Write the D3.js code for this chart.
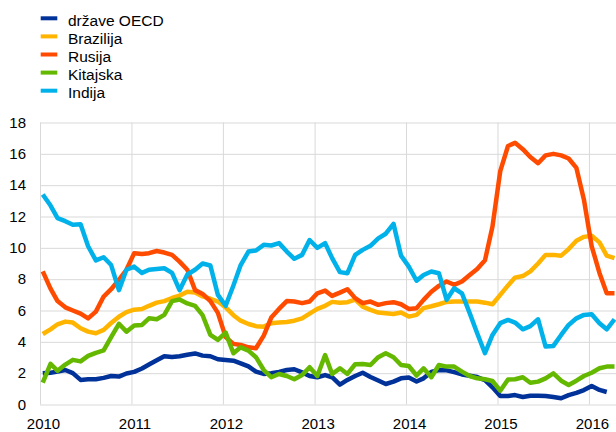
<!DOCTYPE html>
<html>
<head>
<meta charset="utf-8">
<script src="https://cdn.jsdelivr.net/npm/d3@7/dist/d3.min.js"></script>
<style>
  body { margin: 0; background: #fff; }
  svg { display: block; }
</style>
</head>
<body>
<div id="chart"></div>
<script>
// monthly data, January 2010 to April 2016
var startYear = 2010;
var seriesNames = ["države OECD", "Brazilija", "Rusija", "Kitajska", "Indija"];
var seriesColors = ["#003299", "#ffb400", "#ff4b00", "#65b800", "#00b1ea"];
var yTicks = [0, 2, 4, 6, 8, 10, 12, 14, 16, 18];
var xTickYears = [2010, 2011, 2012, 2013, 2014, 2015, 2016];

var oecd = [2.0, 2.03, 2.1, 2.2, 2.0, 1.57, 1.61, 1.61, 1.7, 1.82, 1.78, 1.98,
  2.08, 2.3, 2.55, 2.82, 3.08, 3.03, 3.08, 3.18, 3.26, 3.12, 3.08, 2.89,
  2.84, 2.8, 2.63, 2.43, 2.1, 1.95, 2.0, 2.08, 2.2, 2.25, 2.05, 1.82,
  1.74, 1.88, 1.74, 1.27, 1.57, 1.82, 2.03, 1.76, 1.53, 1.31, 1.46, 1.67,
  1.72, 1.47, 1.67, 2.08, 2.2, 2.18, 2.07, 1.92, 1.84, 1.75, 1.55, 1.1,
  0.54, 0.54, 0.6, 0.48, 0.56, 0.56, 0.54, 0.48, 0.4, 0.6, 0.74, 0.92,
  1.18, 0.93, 0.8];

var brazilija = [4.5, 4.8, 5.12, 5.29, 5.23, 4.87, 4.65, 4.55, 4.76, 5.2, 5.6, 5.9,
  6.05, 6.1, 6.3, 6.5, 6.6, 6.8, 6.95, 7.2, 7.15, 6.9, 6.75, 6.57,
  6.2, 5.7, 5.35, 5.14, 5.0, 4.97, 5.19, 5.23, 5.27, 5.35, 5.5, 5.8,
  6.1, 6.3, 6.55, 6.5, 6.53, 6.7, 6.25, 6.04, 5.87, 5.83, 5.78, 5.87,
  5.61, 5.72, 6.15, 6.27, 6.4, 6.55, 6.57, 6.57, 6.57, 6.57, 6.5, 6.4,
  7.0, 7.6, 8.1, 8.2, 8.5, 9.0, 9.55, 9.55, 9.5, 9.92, 10.45, 10.7,
  10.77, 10.35, 9.5, 9.34];

var rusija = [8.5, 7.4, 6.6, 6.2, 6.0, 5.8, 5.5, 5.93, 6.89, 7.36, 7.96, 8.6,
  9.66, 9.6, 9.66, 9.8, 9.7, 9.55, 9.12, 8.6, 7.3, 7.06, 6.6, 5.85,
  4.3, 3.87, 3.8, 3.65, 3.59, 4.4, 5.55, 6.1, 6.6, 6.57, 6.47, 6.57,
  7.1, 7.27, 6.93, 7.14, 7.36, 6.79, 6.47, 6.57, 6.36, 6.47, 6.53, 6.4,
  6.1, 6.15, 6.68, 7.2, 7.57, 7.85, 7.64, 7.85, 8.27, 8.65, 9.2, 11.36,
  14.9, 16.5, 16.7, 16.3, 15.8, 15.4, 15.9, 16.0, 15.9, 15.7, 15.1, 13.07,
  10.1, 8.4, 7.1, 7.1];

var kitajska = [1.4, 2.6, 2.15, 2.55, 2.85, 2.75, 3.1, 3.3, 3.45, 4.3, 5.15, 4.65,
  5.05, 5.08, 5.5, 5.44, 5.72, 6.6, 6.7, 6.45, 6.3, 5.7, 4.44, 4.12,
  4.59, 3.27, 3.65, 3.44, 3.02, 2.2, 1.74, 1.95, 1.82, 1.61, 1.88, 2.38,
  1.82, 3.16, 1.95, 2.31, 1.95, 2.57, 2.59, 2.52, 3.02, 3.27, 3.02, 2.52,
  2.46, 1.85, 2.31, 1.74, 2.52, 2.42, 2.42, 2.1, 1.82, 1.67, 1.61, 1.5,
  0.88, 1.6, 1.61, 1.74, 1.39, 1.46, 1.67, 1.99, 1.52, 1.25, 1.52, 1.82,
  2.03, 2.31, 2.42, 2.42];

var indija = [13.4, 12.7, 11.9, 11.7, 11.47, 11.5, 10.1, 9.2, 9.4, 8.9, 7.3, 8.6,
  8.8, 8.4, 8.6, 8.65, 8.7, 8.4, 7.3, 8.3, 8.6, 9.0, 8.87, 7.0,
  6.3, 7.6, 8.9, 9.76, 9.83, 10.19, 10.15, 10.3, 9.76, 9.3, 9.55, 10.5,
  10.0, 10.3, 9.34, 8.45, 8.38, 9.55, 9.87, 10.13, 10.6, 10.9, 11.53, 9.5,
  8.8, 7.9, 8.27, 8.49, 8.38, 6.68, 7.42, 7.1, 5.83, 4.55, 3.27, 4.44,
  5.19, 5.4, 5.23, 4.8, 5.0, 5.44, 3.7, 3.74, 4.44, 5.08, 5.5, 5.72,
  5.76, 5.19, 4.8, 5.44];

var allSeries = [oecd, brazilija, rusija, kitajska, indija];

var width = 616, height = 432;
var plot = {left: 40, right: 616, top: 122.5, bottom: 404.5};
var font = "'Liberation Sans', Arial, sans-serif";

var svg = d3.select("#chart").append("svg")
    .attr("width", width)
    .attr("height", height);

// time scale, each month plotted near its middle
var x = d3.scaleTime()
    .domain([new Date(2010, 0, 1), new Date(2016, 3, 18)])
    .range([plot.left, plot.right]);

var y = d3.scaleLinear()
    .domain([0, 18])
    .range([plot.bottom, plot.top]);

function monthDate(i) {
  return new Date(startYear, i, 12);
}

// horizontal grid + y labels
svg.append("g")
    .attr("transform", "translate(" + plot.left + ",0)")
    .call(d3.axisLeft(y)
        .tickValues(yTicks)
        .tickSize(-(plot.right - plot.left))
        .tickPadding(14))
    .call(function(g) {
      g.select(".domain").remove();
      g.selectAll(".tick line").attr("stroke", "#d9d9d9").attr("stroke-width", 1);
      g.selectAll(".tick text")
        .attr("fill", "#000")
        .style("font", "15px " + font);
    });

// vertical grid + x labels
svg.append("g")
    .attr("transform", "translate(0," + plot.bottom + ")")
    .call(d3.axisBottom(x)
        .tickValues(xTickYears.map(function(yr) { return new Date(yr, 0, 1); }))
        .tickFormat(d3.timeFormat("%Y"))
        .tickSize(-(plot.bottom - plot.top))
        .tickPadding(0))
    .call(function(g) {
      g.select(".domain").remove();
      g.selectAll(".tick line").attr("stroke", "#d9d9d9").attr("stroke-width", 1);
      g.selectAll(".tick text")
        .attr("fill", "#000")
        .attr("y", 24.5)
        .attr("dy", 0)
        .attr("dx", 3)
        .style("font", "15px " + font);
    });

// lines
var line = d3.line()
    .x(function(d, i) { return x(monthDate(i)); })
    .y(function(d) { return y(d); });

svg.append("g").selectAll("path")
    .data(allSeries)
    .enter().append("path")
      .attr("d", line)
      .attr("fill", "none")
      .attr("stroke", function(d, i) { return seriesColors[i]; })
      .attr("stroke-width", 4.5)
      .attr("stroke-linejoin", "round");

// legend
var legend = svg.append("g").selectAll("g")
    .data(seriesNames)
    .enter().append("g")
      .attr("transform", function(d, i) { return "translate(40," + (18.3 + i * 18.1) + ")"; });

legend.append("rect")
    .attr("x", 0.7)
    .attr("y", -2)
    .attr("width", 16.6)
    .attr("height", 4)
    .attr("fill", function(d, i) { return seriesColors[i]; });

legend.append("text")
    .attr("x", 28)
    .attr("y", 7.5)
    .style("font", "15.5px " + font)
    .attr("fill", "#000")
    .text(function(d) { return d; });
</script>
</body>
</html>
